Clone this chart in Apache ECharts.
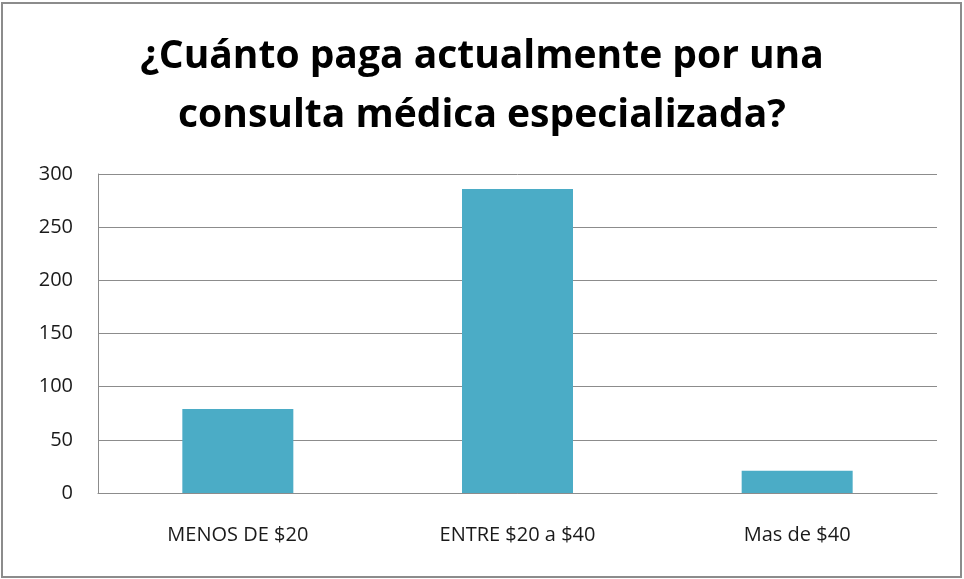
<!DOCTYPE html>
<html>
<head>
<meta charset="utf-8">
<script src="https://cdn.jsdelivr.net/npm/echarts@6/dist/echarts.min.js"></script>
<style>
  html, body { margin: 0; padding: 0; background: #fff; }
  #chart { width: 964px; height: 579px; }
</style>
</head>
<body>
<div id="chart"></div>
<script>
// categorías y valores
const categories = ['MENOS DE $20', 'ENTRE $20 a $40', 'Mas de $40']
const values = [79, 286, 21]
const yTicks = { min: 0, max: 300, interval: 50 }

const chart = echarts.init(document.getElementById('chart'))

const option = {
  backgroundColor: '#fff',
  animation: false,
  title: {
    text: '¿Cuánto paga actualmente por una\nconsulta médica especializada?',
    left: 'center',
    top: 22,
    textStyle: {
      fontFamily: 'Open Sans',
      fontWeight: 'bold',
      fontSize: 39,
      lineHeight: 59,
      color: '#000'
    }
  },
  // marco exterior
  graphic: [{
    type: 'rect',
    shape: { x: 2, y: 3, width: 959, height: 574 },
    style: { fill: 'none', stroke: '#8c8c8c', lineWidth: 2 },
    silent: true
  }],
  grid: { left: 98, right: 27, top: 174, bottom: 86 },
  xAxis: {
    type: 'category',
    data: categories,
    axisLine: { lineStyle: { color: '#8c8c8c', width: 1 } },
    axisTick: { show: false },
    axisLabel: {
      fontFamily: 'Open Sans',
      fontSize: 20,
      color: '#1a1a1a',
      margin: 32
    }
  },
  yAxis: {
    type: 'value',
    min: yTicks.min,
    max: yTicks.max,
    interval: yTicks.interval,
    axisLine: { show: true, lineStyle: { color: '#8c8c8c', width: 1 } },
    axisTick: { show: false },
    splitLine: { lineStyle: { color: '#8c8c8c', width: 1 } },
    axisLabel: {
      fontFamily: 'Open Sans',
      fontSize: 20,
      color: '#1a1a1a',
      margin: 25
    }
  },
  series: [{
    type: 'bar',
    data: values,
    barWidth: 111,
    itemStyle: { color: '#4BACC6' }
  }]
}

chart.setOption(option)
</script>
</body>
</html>
